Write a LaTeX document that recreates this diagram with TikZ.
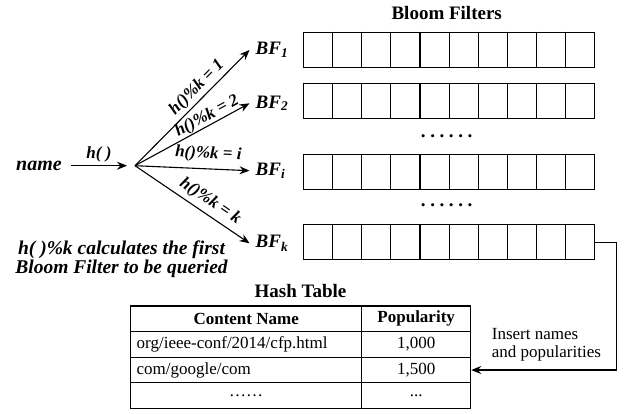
\documentclass[tikz,border=0pt]{standalone}
\usepackage{fontspec}
\setmainfont{Liberation Serif}
\usetikzlibrary{arrows.meta,calc}
\newcommand{\bfdotsrow}{\textbf{.\hspace{4.6pt}.\hspace{4.6pt}.\hspace{4.6pt}.\hspace{4.6pt}.\hspace{4.6pt}.}}
\begin{document}
\begin{tikzpicture}[x=1pt,y=-1pt,
  cellline/.style={line width=1.1pt},
  bfrow/.style={draw, line width=1.1pt, minimum width=290.7pt, minimum height=35pt, inner sep=0pt, anchor=north west},
  bflabel/.style={font=\fontsize{19}{22}\selectfont\bfseries\itshape, anchor=west, inner xsep=6pt, inner ysep=2pt},
  arr/.style={line width=1.1pt, -{Stealth[length=10pt,width=8pt]}},
  armlabel/.style={font=\fontsize{17}{20}\selectfont\bfseries\itshape, sloped, inner sep=1.5pt},
  titletext/.style={font=\fontsize{19}{22}\selectfont\bfseries},
  cell/.style={draw, line width=1.1pt, minimum height=25.6pt, inner sep=0pt, font=\fontsize{17}{20}\selectfont},
  dotrow/.style={inner sep=0pt, font=\fontsize{19}{22}\selectfont},
]
\useasboundingbox (0,0) rectangle (629,413);

% Bloom filters title
\node[titletext] (bftitle) at (446.7,13.3) {Bloom Filters};

% Bloom filter rows
\node[bfrow] (bf1) at (303.3,31.7) {};
\node[bfrow] (bf2) at (303.3,83.3) {};
\node[bfrow] (bfi) at (303.3,154) {};
\node[bfrow] (bfk) at (303.3,224) {};
\foreach \r in {bf1,bf2,bfi,bfk}{
  \foreach \i in {1,...,9}{
    \draw[cellline] ($(\r.north west)!\i/10!(\r.north east)$) -- ($(\r.south west)!\i/10!(\r.south east)$);
  }
}
\node[dotrow] (dots1) at (446.7,136) {\bfdotsrow};
\node[dotrow] (dots2) at (446.7,205) {\bfdotsrow};

% BF labels
\node[bflabel] (l1) at (249.5,50) {BF\textsubscript{1}};
\node[bflabel] (l2) at (249.5,103.3) {BF\textsubscript{2}};
\node[bflabel] (li) at (249.5,170.7) {BF\textsubscript{i}};
\node[bflabel] (lk) at (249.5,243.3) {BF\textsubscript{k}};

% name and hash
\node[font=\fontsize{20}{22}\selectfont\bfseries\itshape, inner xsep=9pt] (name) at (39,165.7) {name};
\coordinate (hin) at (127,165.7);
\coordinate (o) at (135,165.7);
\draw[arr] (name) -- node[above, inner sep=3pt, font=\fontsize{17}{20}\selectfont\bfseries\itshape] (hlab) {h( )} (hin);

% fan arrows
\draw[arr] (o) -- node[armlabel, pos=0.61, above=1.4pt] (a1) {h()\%k = 1} (l1.west);
\draw[arr] (o) -- node[armlabel, pos=0.667, above=-1pt] (a2) {h()\%k = 2} (l2.west);
\draw[arr] (o) -- node[armlabel, pos=0.635, above=5pt] (ai) {h()\%k = i} (li.west);
\draw[arr] (o) -- node[armlabel, pos=0.595, above=3pt] (ak) {h()\%k = k} (lk.west);

% note
\node[font=\fontsize{19.5}{18.3}\selectfont\bfseries\itshape, align=center, inner sep=0pt] (note) at (121.5,259.2) {h( )\%k calculates the first\\Bloom Filter to be queried};

% Hash table
\node[titletext] (httitle) at (300.5,290.7) {Hash Table};
\node[cell, minimum width=231pt, font=\fontsize{17}{20}\selectfont\bfseries] (c11) at (246.2,318.8) {Content Name};
\node[cell, minimum width=109pt, font=\fontsize{17}{20}\selectfont\bfseries] (c12) at (416.2,318.8) {Popularity};
\node[cell, text width=219pt, inner xsep=6pt, align=left] (c21) at (246.2,344.4) {org/ieee-conf/2014/cfp.html};
\node[cell, minimum width=109pt] (c22) at (416.2,344.4) {1,000};
\node[cell, text width=219pt, inner xsep=6pt, align=left] (c31) at (246.2,370) {com/google/com};
\node[cell, minimum width=109pt] (c32) at (416.2,370) {1,500};
\node[cell, minimum width=231pt] (c41) at (246.2,395.6) {\textellipsis\textellipsis};
\node[cell, minimum width=109pt] (c42) at (416.2,395.6) {...};

% insert arrow
\draw[arr] (bfk.east) -- ++(21,0) |- (c32.east);
\node[font=\fontsize{17}{17.3}\selectfont, align=left, anchor=west, inner sep=0pt] (ins) at (491.7,344.7) {Insert names\\and popularities};
\end{tikzpicture}
\end{document}
